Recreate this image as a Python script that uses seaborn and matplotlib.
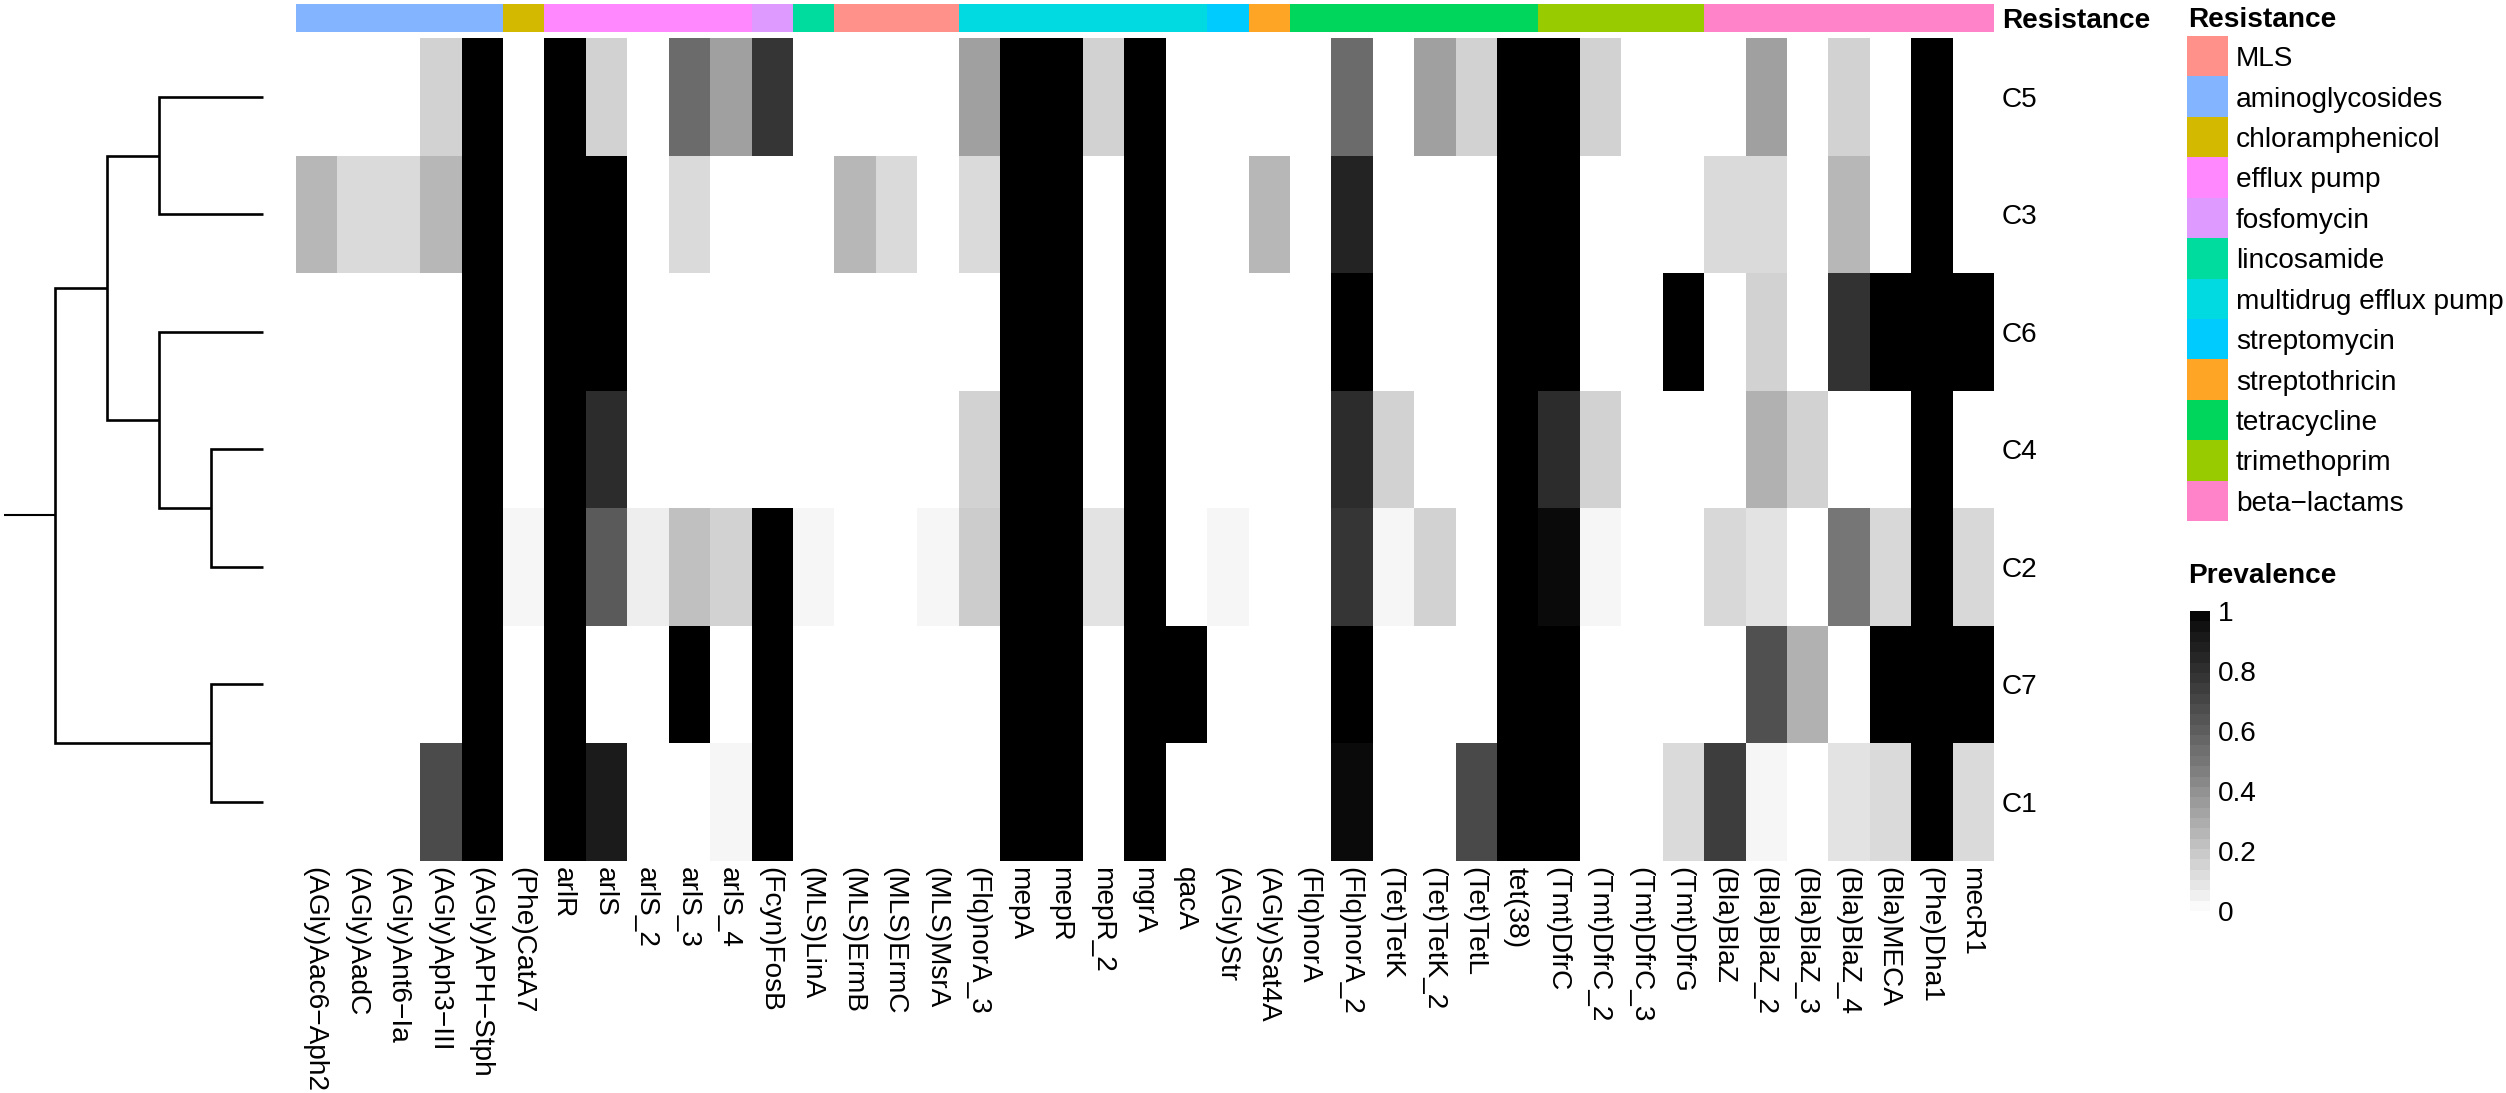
import numpy as np
import pandas as pd
import matplotlib
matplotlib.use("Agg")
import matplotlib.pyplot as plt
from matplotlib.colors import ListedColormap
from matplotlib.transforms import ScaledTranslation
import seaborn as sns

sns.set_theme(style="white")
plt.rcParams["font.family"] = ["Liberation Sans", "DejaVu Sans"]
plt.rcParams["text.color"] = "black"
plt.rcParams["xtick.color"] = "black"
plt.rcParams["ytick.color"] = "black"
plt.rcParams["axes.labelcolor"] = "black"

W, H = 2506, 1093
M = "\u2212"

clusters = ["C5", "C3", "C6", "C4", "C2", "C7", "C1"]

genes = [f"(AGly)Aac6{M}Aph2", "(AGly)AadC", f"(AGly)Ant6{M}Ia", f"(AGly)Aph3{M}III", f"(AGly)APH{M}Stph",
         "(Phe)CatA7", "arlR", "arlS", "arlS_2", "arlS_3", "arlS_4", "(Fcyn)FosB", "(MLS)LinA", "(MLS)ErmB",
         "(MLS)ErmC", "(MLS)MsrA", "(Flq)norA_3", "mepA", "mepR", "mepR_2", "mgrA", "qacA", "(AGly)Str",
         "(AGly)Sat4A", "(Flq)norA", "(Flq)norA_2", "(Tet)TetK", "(Tet)TetK_2", "(Tet)TetL", "tet(38)",
         "(Tmt)DfrC", "(Tmt)DfrC_2", "(Tmt)DfrC_3", "(Tmt)DfrG", "(Bla)BlaZ", "(Bla)BlaZ_2", "(Bla)BlaZ_3",
         "(Bla)BlaZ_4", "(Bla)MECA", "(Phe)Dha1", "mecR1"]

# one row per gene, values in the order of `clusters`
prevalence = [
    [0, .255, 0, 0, 0, 0, 0],
    [0, .13, 0, 0, 0, 0, 0],
    [0, .13, 0, 0, 0, 0, 0],
    [.16, .255, 0, 0, 0, 0, .68],
    [1, 1, 1, 1, 1, 1, 1],
    [0, 0, 0, 0, .035, 0, 0],
    [1, 1, 1, 1, 1, 1, 1],
    [.16, 1, 1, .82, .62, 0, .90],
    [0, 0, 0, 0, .06, 0, 0],
    [.55, .13, 0, 0, .225, 1, 0],
    [.34, 0, 0, 0, .16, 0, .035],
    [.78, 0, 0, 0, 1, 1, 1],
    [0, 0, 0, 0, .035, 0, 0],
    [0, .255, 0, 0, 0, 0, 0],
    [0, .13, 0, 0, 0, 0, 0],
    [0, 0, 0, 0, .035, 0, 0],
    [.34, .13, 0, .16, .18, 0, 0],
    [1, 1, 1, 1, 1, 1, 1],
    [1, 1, 1, 1, 1, 1, 1],
    [.16, 0, 0, 0, .10, 0, 0],
    [1, 1, 1, 1, 1, 1, 1],
    [0, 0, 0, 0, 0, 1, 0],
    [0, 0, 0, 0, .035, 0, 0],
    [0, .255, 0, 0, 0, 0, 0],
    [0, 0, 0, 0, 0, 0, 0],
    [.55, .86, 1, .82, .78, 1, .97],
    [0, 0, 0, .16, .035, 0, 0],
    [.34, 0, 0, 0, .16, 0, 0],
    [.16, 0, 0, 0, 0, 0, .69],
    [1, 1, 1, 1, 1, 1, 1],
    [1, 1, 1, .82, .97, 1, 1],
    [.16, 0, 0, .16, .035, 0, 0],
    [0, 0, 0, 0, 0, 0, 0],
    [0, 0, 1, 0, 0, 0, .13],
    [0, .13, 0, 0, .14, 0, .74],
    [.34, .13, .16, .28, .10, .66, .035],
    [0, 0, 0, .16, 0, .28, 0],
    [.16, .255, .79, 0, .5, 0, .10],
    [0, 0, 1, 0, .14, 1, .13],
    [1, 1, 1, 1, 1, 1, 1],
    [0, 0, 1, 0, .14, 1, .13],
]

classes = ["MLS", "aminoglycosides", "chloramphenicol", "efflux pump", "fosfomycin", "lincosamide",
           "multidrug efflux pump", "streptomycin", "streptothricin", "tetracycline", "trimethoprim",
           f"beta{M}lactams"]
class_colors = ["#FF918A", "#83B4FF", "#D3BA00", "#FF87FF", "#DF9AFF", "#00DB9E",
                "#00DAE0", "#00CBFF", "#FEA526", "#00D65C", "#99CC00", "#FF83C8"]
gene_class = [1] * 5 + [2] + [3] * 5 + [4] + [5] + [0] * 3 + [6] * 6 + [7] + [8] + [9] * 6 + [10] * 4 + [11] * 7

# dendrogram merges: (left, right, height); ints are leaf rows, letters earlier merges
merges = {"a": (0, 1, 2), "b": (3, 4, 1), "c": (2, "b", 2), "d": ("a", "c", 3), "e": (5, 6, 1), "root": ("d", "e", 4)}
stem_height = 4.98


def axpx(x0, y0, x1, y1):
    return fig.add_axes([x0 / W, 1 - y1 / H, (x1 - x0) / W, (y1 - y0) / H])


def lab_gray(v):
    L = 100 * (1 - v)
    Y = ((L + 16) / 116) ** 3 if L > 8 else L / 903.3
    return 12.92 * Y if Y <= 0.0031308 else 1.055 * Y ** (1 / 2.4) - 0.055


gray_cmap = ListedColormap([(g, g, g) for g in (lab_gray(v) for v in np.linspace(0, 1, 256))])
class_cmap = ListedColormap(class_colors)

fig = plt.figure(figsize=(W / 100, H / 100), dpi=100, facecolor="white")
FS = 20.2
L, R = 296, 1994

# main heatmap + colorbar
df = pd.DataFrame(np.array(prevalence).T, index=clusters, columns=genes)
ax = axpx(L, 38, R, 860.7)
cax = axpx(2190, 611, 2210, 911)
sns.heatmap(df, ax=ax, cmap=gray_cmap, vmin=0, vmax=1, cbar_ax=cax, xticklabels=True, yticklabels=True,
            cbar_kws={"ticks": [0, .2, .4, .6, .8, 1], "boundaries": np.linspace(0, 1, 30), "spacing": "proportional"})
ax.yaxis.tick_right()
ax.tick_params(axis="y", length=0, pad=5.8, labelsize=FS, labelrotation=0)
ax.tick_params(axis="x", length=0, pad=4.5, labelsize=FS)
shift = ScaledTranslation(-2 / 100, 0, fig.dpi_scale_trans)
for t in ax.get_xticklabels():
    t.set_rotation(270)
    t.set_ha("center")
    t.set_va("top")
    t.set_transform(t.get_transform() + shift)
cax.tick_params(length=0, pad=5.5, labelsize=FS)
cax.set_yticklabels(["0", "0.2", "0.4", "0.6", "0.8", "1"])
for s in cax.spines.values():
    s.set_visible(False)
cax.collections[-1].set_edgecolor("none")

# top annotation bar
top = axpx(L, 4, R, 32)
sns.heatmap(pd.DataFrame([gene_class], index=["Resistance"], columns=genes), ax=top, cmap=class_cmap, vmin=-.5, vmax=11.5,
            cbar=False, xticklabels=False, yticklabels=True)
top.yaxis.tick_right()
top.tick_params(axis="y", length=0, pad=5.8, labelsize=FS, labelrotation=0)
top.set_xlabel("")
for t in top.get_yticklabels():
    t.set_fontweight("bold")

# class legend
leg = axpx(2187, 36, 2228, 521)
sns.heatmap(pd.DataFrame({"k": range(len(classes))}, index=classes), ax=leg, cmap=class_cmap, vmin=-.5, vmax=11.5,
            cbar=False, xticklabels=False, yticklabels=True)
leg.yaxis.tick_right()
leg.tick_params(axis="y", length=0, pad=5.8, labelsize=FS, labelrotation=0)
leg.set_xlabel("")

fig.text(2188 / W, 1 - 20 / H, "Resistance", fontsize=FS, fontweight="bold", va="center", ha="left")
fig.text(2188 / W, 1 - 576 / H, "Prevalence", fontsize=FS, fontweight="bold", va="center", ha="left")

# dendrogram
den = axpx(4, 38, 263, 860.7)
den.set_xlim(stem_height, 0)
den.set_ylim(len(clusters), 0)
den.axis("off")
pos = {i: i + .5 for i in range(len(clusters))}
lw = 1.9
hgt = {i: 0 for i in range(len(clusters))}
for name, (a, b, h) in merges.items():
    pos[name] = (pos[a] + pos[b]) / 2
    hgt[name] = h
    den.plot([hgt[a], h, h, hgt[b]], [pos[a], pos[a], pos[b], pos[b]], color="black", lw=lw,
             solid_joinstyle="miter", solid_capstyle="butt", clip_on=False)
den.plot([stem_height, hgt["root"]], [pos["root"]] * 2, color="black", lw=1.5, solid_capstyle="butt")

fig.savefig("out.png", dpi=100)
